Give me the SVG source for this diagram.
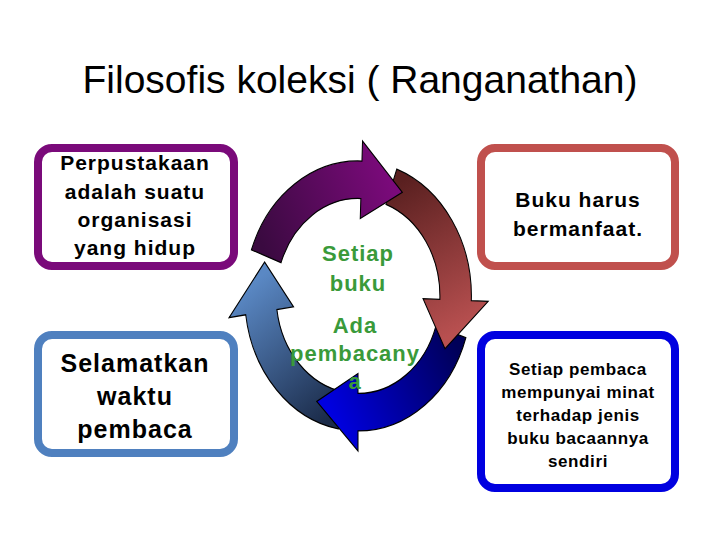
<svg xmlns="http://www.w3.org/2000/svg" width="720" height="540" viewBox="0 0 720 540">
<style>
text{font-family:"Liberation Sans",Arial,sans-serif;text-anchor:middle}
.box{fill:#fff;stroke-width:8}
.b{font-weight:bold;letter-spacing:1px}
.g{fill:#3a9a3a;font-weight:bold;font-size:22px;letter-spacing:1px}
.arr{stroke:#000;stroke-width:1}
</style>
<defs>
<path id="arc" d="M108,0 A108,108 0 0 1 33.37,102.71 L38.32,117.93 L-11.33,92.31 L19.16,58.97 L24.1,74.18 A78,78 0 0 0 78,0 Z"/>
<linearGradient id="gp" gradientUnits="userSpaceOnUse" x1="93" y1="0" x2="0" y2="93"><stop offset="0" stop-color="#3a0a40"/><stop offset="1" stop-color="#7a0a7a"/></linearGradient>
<linearGradient id="gr" gradientUnits="userSpaceOnUse" x1="93" y1="0" x2="0" y2="93"><stop offset="0" stop-color="#5a2020"/><stop offset="1" stop-color="#b85050"/></linearGradient>
<linearGradient id="gb" gradientUnits="userSpaceOnUse" x1="93" y1="0" x2="0" y2="93"><stop offset="0" stop-color="#000058"/><stop offset="1" stop-color="#0000e0"/></linearGradient>
<linearGradient id="gs" gradientUnits="userSpaceOnUse" x1="93" y1="0" x2="0" y2="93"><stop offset="0" stop-color="#1a2a48"/><stop offset="1" stop-color="#5a88c4"/></linearGradient>
</defs>
<rect width="720" height="540" fill="#fff"/>
<text x="360" y="93" font-size="39">Filosofis koleksi ( Ranganathan)</text>
<g id="connectors" transform="translate(358,296) scale(1.05,1.25)">
<use href="#arc" class="arr" fill="url(#gs)" transform="rotate(100)"/>
<use href="#arc" class="arr" fill="url(#gb)" transform="rotate(18)"/>
<use href="#arc" class="arr" fill="url(#gr)" transform="rotate(290)"/>
<use href="#arc" class="arr" fill="url(#gp)" transform="rotate(200)"/>
</g>
<g id="center">
<text class="g" x="358" y="261">Setiap</text>
<text class="g" x="358" y="291">buku</text>
<text class="g" x="355" y="333">Ada</text>
<text class="g" x="355" y="361">pembacany</text>
<text class="g" x="355" y="389">a</text>
</g>
<g id="n1">
<rect class="box" x="38" y="148" width="196" height="118" rx="14" stroke="#7a0a7a"/>
<text class="b" font-size="21" x="135" y="170">Perpustakaan</text>
<text class="b" font-size="21" x="135" y="199">adalah suatu</text>
<text class="b" font-size="21" x="135" y="227">organisasi</text>
<text class="b" font-size="21" x="135" y="255">yang hidup</text>
</g>
<g id="n2">
<rect class="box" x="38" y="335" width="196" height="118" rx="14" stroke="#4f80bf"/>
<text class="b" font-size="25" x="135" y="372">Selamatkan</text>
<text class="b" font-size="25" x="135" y="405">waktu</text>
<text class="b" font-size="25" x="135" y="438">pembaca</text>
</g>
<g id="n3">
<rect class="box" x="481" y="148" width="194" height="118" rx="14" stroke="#c0504d"/>
<text class="b" font-size="21" x="578" y="207">Buku harus</text>
<text class="b" font-size="21" x="578" y="236">bermanfaat.</text>
</g>
<g id="n4">
<rect class="box" x="481" y="335" width="194" height="153" rx="14" stroke="#0000e0"/>
<text class="b" font-size="17" x="578" y="375" style="letter-spacing:0.6px">Setiap pembaca</text>
<text class="b" font-size="17" x="578" y="398" style="letter-spacing:0.6px">mempunyai minat</text>
<text class="b" font-size="17" x="578" y="421" style="letter-spacing:0.6px">terhadap jenis</text>
<text class="b" font-size="17" x="578" y="444" style="letter-spacing:0.6px">buku bacaannya</text>
<text class="b" font-size="17" x="578" y="467" style="letter-spacing:0.6px">sendiri</text>
</g>
</svg>
